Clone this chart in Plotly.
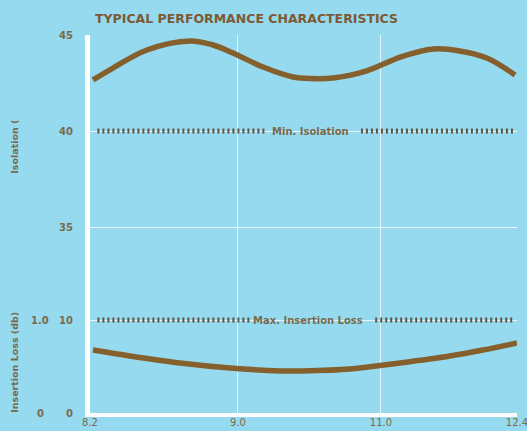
import numpy as np
import plotly.graph_objects as go

# ---- data ----
freq_ticks = [8.2, 9.0, 11.0, 12.4]
freq_tick_labels = ["8.2", "9.0", "11.0", "12.4"]

iso_freq = [8.216, 8.324, 8.508, 8.741, 8.865, 8.973, 9.35, 9.77, 9.87,
            10.33, 10.80, 11.20, 11.54, 11.81, 12.09, 12.38]
iso_db = [42.66, 43.28, 44.22, 44.69, 44.48, 44.06, 43.33, 42.81, 42.76,
          42.76, 43.13, 43.85, 44.27, 44.17, 43.80, 42.92]

il_freq = [8.216, 8.416, 8.686, 8.957, 9.587, 9.867, 10.57, 11.196, 11.71, 12.05, 12.40]
il_db = [0.677, 0.613, 0.538, 0.484, 0.452, 0.452, 0.473, 0.538, 0.613, 0.677, 0.753]

min_isolation_db = 40
max_insertion_loss_db = 1.0
min_iso_segments = [(8.24, 9.38), (10.72, 12.38)]
max_il_segments = [(8.24, 9.17), (10.92, 12.38)]

inner_tick_labels = ["0", "10", "35", "40", "45"]
inner_tick_values = [0, 1.0, 35, 40, 45]   # first two: insertion loss, rest: isolation
outer_tick_labels = ["0", "1.0"]
outer_tick_values = [0, 1.0]

# ---- scales for the non-uniform / broken axes ----
x_tick_pos = [0, 1.0, 1.966, 2.885]


def fx(f):
    return np.interp(np.asarray(f, float), freq_ticks, x_tick_pos)


def y_iso(db):
    return 2 + (np.asarray(db, float) - 35) * 0.2065


def y_il(db):
    return np.asarray(db, float)


BG = "#96daef"
BROWN = "#85602c"
DOT = "#5e5443"
TXT = "#7a6a4c"
FONT = "DejaVu Sans"

fig = go.Figure()

# curves
fig.add_trace(go.Scatter(x=fx(iso_freq), y=y_iso(iso_db), mode="lines",
                         line=dict(color=BROWN, width=5.5, shape="spline"),
                         hoverinfo="skip"))
fig.add_trace(go.Scatter(x=fx(il_freq), y=y_il(il_db), mode="lines",
                         line=dict(color=BROWN, width=5.5, shape="spline"),
                         hoverinfo="skip"))


def seg_xy(segs, yv):
    xs, ys = [], []
    for a, b in segs:
        xs += [float(fx(a)), float(fx(b)), None]
        ys += [yv, yv, None]
    return xs, ys


xs, ys = seg_xy(min_iso_segments, float(y_iso(min_isolation_db)))
fig.add_trace(go.Scatter(x=xs, y=ys, mode="lines",
                         line=dict(color=DOT, width=5, dash="2px,3px"), hoverinfo="skip"))
xs, ys = seg_xy(max_il_segments, float(y_il(max_insertion_loss_db)))
fig.add_trace(go.Scatter(x=xs, y=ys, mode="lines",
                         line=dict(color=DOT, width=5, dash="2px,3px"), hoverinfo="skip"))

fig.add_annotation(x=float(fx(10.02)), y=float(y_iso(min_isolation_db)), text="<b>Min. Isolation</b>",
                   showarrow=False, font=dict(family=FONT, size=10, color=TXT))
fig.add_annotation(x=float(fx(9.98)), y=float(y_il(max_insertion_loss_db)), text="<b>Max. Insertion Loss</b>",
                   showarrow=False, font=dict(family=FONT, size=10, color=TXT))

# y tick positions (inner column)
inner_pos = [float(y_il(v)) for v in inner_tick_values[:2]] + [float(y_iso(v)) for v in inner_tick_values[2:]]

# outer column labels (insertion loss)
for v, t in zip(outer_tick_values, outer_tick_labels):
    fig.add_annotation(xref="paper", yref="y", x=-0.117, y=float(y_il(v)), text="<b>" + t + "</b>",
                       showarrow=False, xanchor="center", yanchor="middle",
                       font=dict(family=FONT, size=10, color=TXT))

# axis titles
fig.add_annotation(xref="paper", yref="paper", x=-0.176, y=0.704, text="<b>Isolation (</b>",
                   textangle=-90, showarrow=False, xanchor="center", yanchor="middle",
                   font=dict(family=FONT, size=9.5, color=TXT))
fig.add_annotation(xref="paper", yref="paper", x=-0.176, y=0.135, text="<b>Insertion Loss (db)</b>",
                   textangle=-90, showarrow=False, xanchor="center", yanchor="middle",
                   font=dict(family=FONT, size=9.5, color=TXT))

fig.update_layout(
    width=527, height=431,
    margin=dict(l=90, r=10, t=35, b=18, autoexpand=False),
    paper_bgcolor=BG, plot_bgcolor=BG,
    showlegend=False,
    title=dict(text="<b>TYPICAL PERFORMANCE CHARACTERISTICS</b>", x=95 / 527, xanchor="left",
               y=1 - 19 / 431, yanchor="middle",
               font=dict(family=FONT, size=12.5, color="#7d5a34")),
)
fig.update_xaxes(range=[0, x_tick_pos[-1] + 0.0005], tickvals=x_tick_pos, ticktext=freq_tick_labels,
                 showgrid=True, gridcolor="rgba(255,255,255,0.75)", gridwidth=1,
                 zeroline=False, showline=True, linecolor="white", linewidth=4,
                 ticks="", ticklabelstandoff=-3, automargin=False, ticklabeloverflow="allow",
                 tickfont=dict(family=FONT, size=10, color=TXT))
fig.update_yaxes(range=[0, float(y_iso(45))], tickvals=inner_pos,
                 ticktext=["<b>" + t + "</b>" for t in inner_tick_labels],
                 showgrid=True, gridcolor="rgba(255,255,255,0.75)", gridwidth=1,
                 zeroline=False, showline=True, linecolor="white", linewidth=5,
                 ticks="", ticklabelstandoff=10, automargin=False,
                 tickfont=dict(family=FONT, size=10, color=TXT))

fig.write_html("out.html", config={"displayModeBar": False},
               post_script="document.body.style.margin='0';document.body.style.overflow='hidden';")
